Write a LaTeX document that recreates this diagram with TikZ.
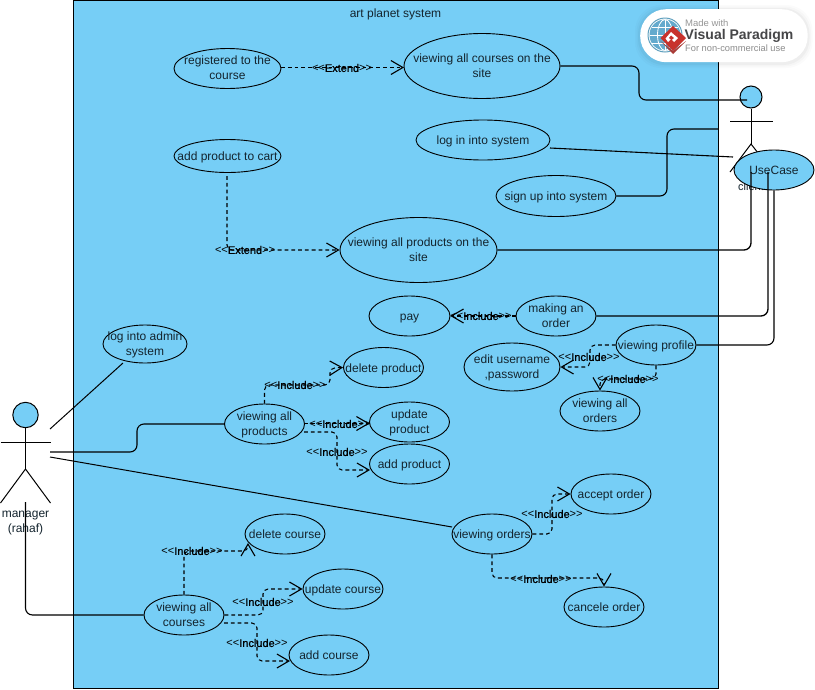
\documentclass[tikz,border=0pt]{standalone}
\usepackage{fontspec}
\newfontfamily\ufont{Liberation Sans}
\newfontface\ubold{Liberation Sans}[FakeBold=0.8]
\usetikzlibrary{arrows.meta,shapes.geometric}
\definecolor{sysblue}{HTML}{76CEF6}
\definecolor{txt}{HTML}{14242E}
\definecolor{globeline}{RGB}{96,160,190}
\definecolor{globefill}{RGB}{100,170,205}
\definecolor{vpred}{RGB}{200,50,44}
\definecolor{vpreddark}{RGB}{170,60,55}
\definecolor{vpgray}{RGB}{150,150,150}
\definecolor{vpdark}{RGB}{70,70,72}
\definecolor{vpgraytwo}{RGB}{140,140,140}
\newcommand{\inc}{<<{\ubold Include}>>}
\newcommand{\ext}{<<{\ubold Extend}>>}
\tikzset{
  x=1pt,y=-1pt,
  every node/.style={font=\ufont\fontsize{12}{15}\selectfont,text=txt,align=center,inner sep=0pt},
  every label/.style={execute at begin node=\strut,execute at end node=\strut,yshift=-1.5pt},
  uc/.style 2 args={ellipse,draw=black,fill=sysblue,line width=0.9pt,minimum width=#1pt,minimum height=#2pt},
  assoc/.style={line width=1.1pt,rounded corners=7pt},
  assocb/.style={line width=1.3pt,rounded corners=7pt},
  dep/.style={line width=1.05pt,dash pattern=on 3.8pt off 3pt,rounded corners=5pt,-{Straight Barb[length=12pt,width=14pt,line width=1.1pt]}},
  deplabel/.style={font=\ufont\fontsize{11}{13}\selectfont,text=black},
  stick/.style={line width=1pt},
  headnode/.style={circle,draw=black,fill=sysblue,line width=1pt,minimum size=#1pt},
}
\begin{document}
\begin{tikzpicture}
\useasboundingbox (0,0) rectangle (815,689);
\fill[white] (0,0) rectangle (815,689);
% system boundary
\node[draw=black,fill=sysblue,line width=1pt,minimum width=645pt,minimum height=688pt,anchor=north west] (sys) at (73,0) {};
\node (systitle) at (395.5,14) {art planet system};

% client actor
\node[headnode=22] (client) at (751,97) {};
\coordinate (chip) at (751,144);
\draw[stick] (client.south) -- (chip);
\coordinate (carmL) at (730,121);
\coordinate (carmR) at (773,121);
\coordinate (clegL) at (730,172);
\coordinate (clegR) at (773,172);
\draw[stick] (carmL) -- (carmR);
\draw[stick] (clegL) -- (chip) -- (clegR);
\node[font=\ufont\fontsize{11}{13}\selectfont] (clientlabel) at (751,187) {client};

% manager actor
\node[headnode=25.4] (manager) at (25.5,415) {};
\coordinate (mhip) at (25.5,469);
\coordinate (marmL) at (0.5,442);
\coordinate (marmR) at (50.5,442);
\coordinate (mlegL) at (0.5,503);
\coordinate (mlegR) at (50.5,503);
\draw[stick] (manager.south) -- (mhip);
\draw[stick] (marmL) -- (marmR);
\draw[stick] (mlegL) -- (mhip) -- (mlegR);
\node (managerlabel) at (25.5,523) {manager\\(rahaf)};

% use cases
\node[uc={107}{40},label={center:registered to the\\course}] (reg) at (227.5,68.5) {};
\node[uc={156}{65},label={center:viewing all courses on the\\site}] (vcs) at (482,66) {};
\node[uc={134}{40},label={center:log in into system}] (login) at (483,140) {};
\node[uc={120}{41},label={center:sign up into system}] (signup) at (556,196) {};
\node[uc={107}{33},label={center:add product to cart}] (cart) at (227.5,156) {};
\node[uc={157}{65},label={center:viewing all products on the\\site}] (vps) at (418.5,250) {};
\node[uc={81}{40},label={center:pay}] (pay) at (409.5,316) {};
\node[uc={80}{40},label={center:making an\\order}] (making) at (556,316) {};
\node[uc={80}{40},label={center:viewing profile}] (profile) at (656,345) {};
\node[uc={96}{48},label={center:edit username\\,password}] (edit) at (512,367) {};
\node[uc={80}{40},label={center:viewing all\\orders}] (allorders) at (600,411) {};
\node[uc={84}{38},label={center:log into admin\\system}] (admin) at (145,344) {};
\node[uc={80}{40},label={center:delete product}] (delprod) at (383.5,367.5) {};
\node[uc={80}{40},label={center:viewing all\\products}] (vprod) at (264.5,424) {};
\node[uc={80}{40},label={center:update\\product}] (upprod) at (409.5,422) {};
\node[uc={80}{40},label={center:add product}] (addprod) at (409.5,464) {};
\node[uc={80}{40},label={center:delete course}] (delcourse) at (285,534) {};
\node[uc={80}{40},label={center:update course}] (upcourse) at (343,589) {};
\node[uc={80}{40},label={center:viewing all\\courses}] (vcourse) at (184,615) {};
\node[uc={80}{40},label={center:add course}] (addcourse) at (329,655) {};
\node[uc={80}{40},label={center:viewing orders}] (vorders) at (492,534) {};
\node[uc={80}{40},label={center:accept order}] (accept) at (611,494) {};
\node[uc={80}{40},label={center:cancele order}] (cancel) at (604,607) {};
\node[uc={80}{40},label={center:UseCase}] (usecase) at (774,170) {};

% associations
\coordinate (cin) at (751,172);
\coordinate (cin2) at (768,172);
\coordinate (cloginend) at (733,157);
\coordinate (loginstart) at (550,148);
\coordinate (sysedge) at (718,129);
\coordinate (chead) at (747,100);
\draw[assoc] (vcs.east) -- (639,66) -- (639,100) -- (chead);
\draw[assoc] (loginstart) -- (cloginend);
\draw[assoc] (signup.east) -- (667,196) -- (667,129) -- (sysedge);
\draw[assocb] (vps.east) -- (751,250) -- (cin);
\draw[assocb] (making.east) -- (768,316) -- (cin2);
\draw[assoc] (profile.east) -- (774,345) -- (usecase.south);

\coordinate (mstart1) at (50,429);
\coordinate (mstart2) at (50,452);
\coordinate (mstart3) at (50,457);
\coordinate (mstart4) at (25.5,502);
\coordinate (adminend) at (123,363);
\coordinate (ordersend) at (452,527);
\draw[stick] (mstart1) -- (adminend);
\draw[assoc] (mstart2) -- (137,452) -- (137,424) -- (vprod.west);
\draw[stick] (mstart3) -- (ordersend);
\draw[assoc] (mstart4) -- (25.5,615) -- (vcourse.west);

% extend
\draw[dep] (281,67.5) -- (404,67.5);
\node[deplabel] (e1) at (342,68) {\ext};
\draw[dep] (227,176) -- (227,250) -- (vps.west);
\node[deplabel] (e2) at (245,250) {\ext};

% include
\draw[dep] (making.west) -- (pay.east);
\node[deplabel] (i1) at (481,316) {\inc};
\draw[dep] (profile.west) -- (590,345) -- (590,367) -- (edit.east);
\node[deplabel] (i2) at (589,357) {\inc};
\draw[dep] (profile.south) -- (656,379) -- (600,379) -- (allorders.north);
\node[deplabel] (i3) at (628,379) {\inc};
\draw[dep] (vprod.north) -- (264.5,385) -- (330,385) -- (330,368) -- (delprod.west);
\node[deplabel] (i4) at (295,385) {\inc};
\draw[dep] (304.5,423.5) -- (369.5,423.5);
\node[deplabel] (i5) at (340,424) {\inc};
\draw[dep] (304,432) -- (337,432) -- (337,470) -- (370,470);
\node[deplabel] (i6) at (337,452) {\inc};
\draw[dep] (vcourse.north) -- (184,551) -- (248,551) -- (248,543);
\node[deplabel] (i7) at (192,551) {\inc};
\draw[dep] (vcourse.east) -- (263,615) -- (263,589) -- (upcourse.west);
\node[deplabel] (i8) at (263,602) {\inc};
\draw[dep] (224,623) -- (257,623) -- (257,661) -- (290,661);
\node[deplabel] (i9) at (257,643) {\inc};
\draw[dep] (vorders.east) -- (552,534) -- (552,494) -- (accept.west);
\node[deplabel] (i10) at (552,514) {\inc};
\draw[dep] (vorders.south) -- (492,578) -- (604,578) -- (cancel.north);
\node[deplabel] (i11) at (541,579) {\inc};

% watermark badge
\foreach \g/\o in {5/0.015,3.5/0.02,2/0.03}{
  \fill[black,opacity=\o,rounded corners=26pt] (640-\g,9-\g+1) rectangle (807.5+\g,62+\g+1);
}
\node[fill=white,rounded corners=26pt,minimum width=167.5pt,minimum height=53pt,anchor=north west] (badge) at (640,9) {};
\node[circle,fill=white,draw=globeline,line width=1pt,minimum size=34pt] (globe) at (665,35) {};
\fill[globefill] (665,35) circle (15.5);
\draw[white,line width=0.8pt] (649.5,35) -- (680.5,35) (652,27) -- (678,27) (652,43) -- (678,43) (665,19.5) -- (665,50.5);
\draw[white,line width=0.8pt] (665,35) ellipse (7.5 and 15.5);
\fill[vpred] (673,26) -- (686,38) -- (673,51) -- (660.5,38) -- cycle;
\fill[vpreddark] (660.5,41) -- (673,54) -- (686,41) -- (673,51) -- cycle;
\fill[white] (671,32) -- (678,38) -- (674,42) -- (671,39) -- (668,42) -- (665.5,38.5) -- cycle;
\fill[vpred] (671,35.5) -- (674,38) -- (671.5,40) -- (669,38) -- cycle;
\node[anchor=west,font=\ufont\fontsize{9.5}{11}\selectfont,text=vpgray] (madewith) at (685,23) {Made with};
\node[anchor=west,font=\ufont\bfseries\fontsize{14}{17}\selectfont,text=vpdark] (vpname) at (684.5,35.5) {Visual Paradigm};
\node[anchor=west,font=\ufont\fontsize{9.3}{11}\selectfont,text=vpgraytwo] (fornon) at (685,48) {For non-commercial use};
\end{tikzpicture}
\end{document}
